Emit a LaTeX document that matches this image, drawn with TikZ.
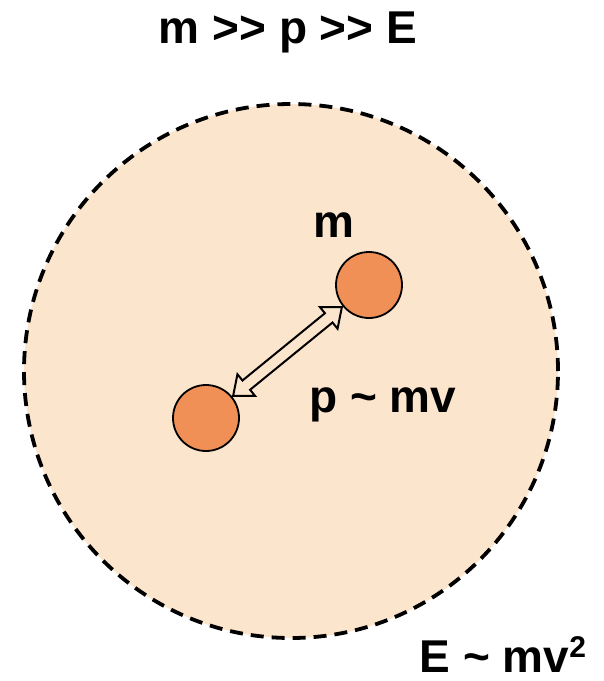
\documentclass[tikz,border=0pt]{standalone}
\usepackage{fontspec}
\setmainfont{Liberation Sans}
\usetikzlibrary{calc}
\definecolor{bgpeach}{HTML}{FBE5CD}
\definecolor{ballc}{HTML}{F19056}
\begin{document}
\begin{tikzpicture}[x=1pt,y=-1pt,
  ball/.style={circle,draw=black,line width=1.8pt,fill=ballc,minimum size=66pt,inner sep=0pt},
  lbl/.style={font=\bfseries\fontsize{46}{50}\selectfont,inner sep=0pt,anchor=base},
  cloud/.style={circle,draw=black,line width=3.8pt,dash pattern=on 13pt off 8pt,fill=bgpeach,minimum size=534pt,inner sep=0pt},
  hollow/.style={draw=black,line width=2pt,fill=bgpeach,line join=miter}]
\useasboundingbox (0,0) rectangle (604,681);
\node[cloud] (sys) at (291,371) {};
\node[ball] (p1) at (206,418) {};
\node[ball] (p2) at (369,285) {};
\coordinate (A) at ($(p1)!35pt!(p2)$);
\coordinate (B) at ($(p2)!35pt!(p1)$);
\coordinate (H1) at ($(A)!17pt!(B)$);
\coordinate (H2) at ($(B)!17pt!(A)$);
\draw[hollow] (A) -- ($(H1)!14pt!90:(B)$) -- ($(H1)!6pt!90:(B)$) -- ($(H2)!6pt!-90:(A)$) -- ($(H2)!14pt!-90:(A)$) -- (B)
  -- ($(H2)!14pt!90:(A)$) -- ($(H2)!6pt!90:(A)$) -- ($(H1)!6pt!-90:(B)$) -- ($(H1)!14pt!-90:(B)$) -- cycle;
\node[lbl] (title) at (288,43) {m >{}> p >{}> E};
\node[lbl] (mlabel) at (334,237) {m};
\node[lbl] (plabel) at (383,412) {p \textasciitilde{} mv};
\node[lbl] (elabel) at (503,672) {E \textasciitilde{} mv\raisebox{15pt}{\fontsize{30}{32}\selectfont 2}};
\end{tikzpicture}
\end{document}
